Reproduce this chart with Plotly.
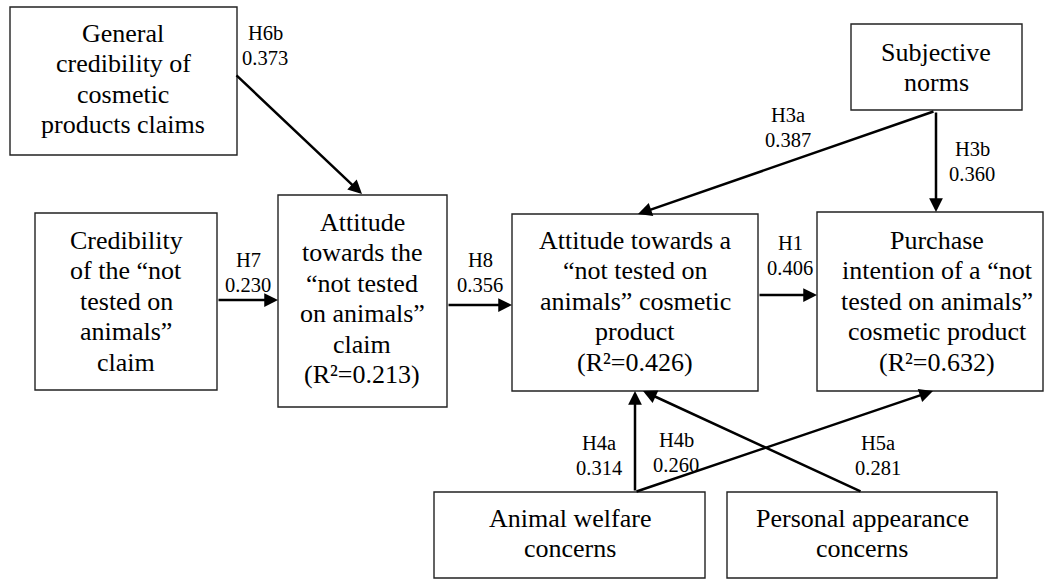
import plotly.graph_objects as go

W, H = 1045, 579

# ---------------- data ----------------
construct_ids = ["gen_cred", "cred_claim", "att_claim", "att_product",
                 "purchase", "subj_norms", "animal_welfare", "appearance"]
construct_lines = [
    ["General", "credibility of", "cosmetic", "products claims"],
    ["Credibility", "of the \u201cnot", "tested on", "animals\u201d", "claim"],
    ["Attitude", "towards the", "\u201cnot tested", "on animals\u201d", "claim"],
    ["Attitude towards a", "\u201cnot tested on", "animals\u201d cosmetic", "product"],
    ["Purchase", "intention of a \u201cnot", "tested on animals\u201d", "cosmetic product"],
    ["Subjective", "norms"],
    ["Animal welfare", "concerns"],
    ["Personal appearance", "concerns"],
]
r2_constructs = ["att_claim", "att_product", "purchase"]
r2_values = [0.213, 0.426, 0.632]

hypotheses = ["H6b", "H7", "H8", "H1", "H3a", "H3b", "H4a", "H4b", "H5a"]
path_from = ["gen_cred", "cred_claim", "att_claim", "att_product", "subj_norms",
             "subj_norms", "animal_welfare", "animal_welfare", "appearance"]
path_to = ["att_claim", "att_claim", "att_product", "purchase", "att_product",
           "purchase", "att_product", "purchase", "att_product"]
coefficients = [0.373, 0.230, 0.356, 0.406, 0.387, 0.360, 0.314, 0.260, 0.281]

# ---------------- layout (positions / styles) ----------------
box_pos = {
    "gen_cred": (10, 7, 237, 155),
    "cred_claim": (35, 213, 217, 390),
    "att_claim": (278, 195, 447, 407),
    "att_product": (512, 214, 758, 391),
    "purchase": (817, 212, 1043, 391),
    "subj_norms": (851, 24, 1022, 110),
    "animal_welfare": (434, 492, 705, 578),
    "appearance": (727, 492, 997, 578),
}
text_pos = {  # center x, first line y
    "gen_cred": (123, 33),
    "cred_claim": (126, 240),
    "att_claim": (362, 222),
    "att_product": (635, 240),
    "purchase": (937, 240),
    "subj_norms": (936, 52),
    "animal_welfare": (570, 518),
    "appearance": (862, 518),
}
LINE_GAP = 30.5
BOX_FONT = 26
LABEL_FONT = 20.5
FONT = "Liberation Serif, Times New Roman, serif"

arrow_pos = {  # tail (x, y), tip (x, y)
    "H6b": ((235, 74), (362, 194)),
    "H7": ((217, 300), (278, 300)),
    "H8": ((447, 305), (512, 305)),
    "H1": ((758, 295), (817, 295)),
    "H3a": ((935, 111), (638, 214)),
    "H3b": ((936, 111), (936, 212)),
    "H4a": ((635, 492), (635, 391)),
    "H4b": ((635, 492), (933, 391)),
    "H5a": ((862, 492), (643, 391)),
}
label_pos = {  # center of hypothesis name line, second line below
    "H6b": (265, 33),
    "H7": (248, 260),
    "H8": (480, 260),
    "H1": (790, 243),
    "H3a": (788, 115),
    "H3b": (972, 149),
    "H4a": (599, 443),
    "H4b": (676, 440),
    "H5a": (878, 443),
}
LABEL_GAP = 24.5

fig = go.Figure()
shapes = []
annotations = []

for cid, lines in zip(construct_ids, construct_lines):
    x0, y0, x1, y1 = box_pos[cid]
    shapes.append(dict(type="rect", xref="x", yref="y", x0=x0, y0=y0, x1=x1, y1=y1,
                       line=dict(color="#222222", width=1.4), fillcolor="rgba(0,0,0,0)"))
    all_lines = list(lines)
    if cid in r2_constructs:
        r2 = r2_values[r2_constructs.index(cid)]
        all_lines.append(f"(R\u00b2={r2:.3f})")
    cx, fy = text_pos[cid]
    for i, t in enumerate(all_lines):
        annotations.append(dict(x=cx, y=fy + i * LINE_GAP, xref="x", yref="y",
                                text=t, showarrow=False, xanchor="center", yanchor="middle",
                                font=dict(family=FONT, size=BOX_FONT, color="black")))

for h, c in zip(hypotheses, coefficients):
    (tx, ty), (hx, hy) = arrow_pos[h]
    annotations.append(dict(x=hx, y=hy, ax=tx, ay=ty, xref="x", yref="y",
                            axref="x", ayref="y", text="", showarrow=True,
                            arrowhead=2, arrowsize=1.1, arrowwidth=2.5,
                            arrowcolor="black", standoff=0, startstandoff=0))
    lx, ly = label_pos[h]
    for i, t in enumerate([h, f"{c:.3f}"]):
        annotations.append(dict(x=lx, y=ly + i * LABEL_GAP, xref="x", yref="y",
                                text=t, showarrow=False, xanchor="center", yanchor="middle",
                                font=dict(family=FONT, size=LABEL_FONT, color="black")))

fig.update_layout(
    width=W, height=H,
    margin=dict(l=0, r=0, t=0, b=0),
    paper_bgcolor="white", plot_bgcolor="white",
    xaxis=dict(range=[0, W], visible=False, fixedrange=True),
    yaxis=dict(range=[H, 0], visible=False, fixedrange=True),
    shapes=shapes, annotations=annotations,
    showlegend=False,
)

fig.write_html(
    "out.html",
    config={"displayModeBar": False},
    post_script="document.body.style.margin='0';document.body.style.overflow='hidden';",
)
